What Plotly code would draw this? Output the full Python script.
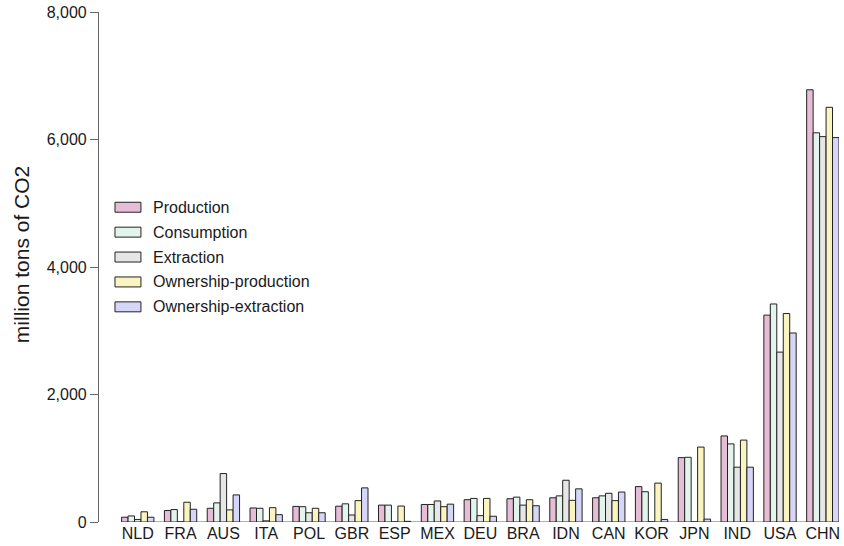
import plotly.graph_objects as go

countries = ["NLD", "FRA", "AUS", "ITA", "POL", "GBR", "ESP", "MEX", "DEU",
             "BRA", "IDN", "CAN", "KOR", "JPN", "IND", "USA", "CHN"]
production = [75, 180, 215, 220, 245, 248, 265, 275, 350, 365, 380, 380, 555, 1010, 1350, 3245, 6780]
consumption = [95, 195, 300, 215, 240, 285, 265, 275, 370, 390, 410, 410, 475, 1015, 1225, 3420, 6105]
extraction = [40, 0, 760, 18, 145, 110, 0, 330, 100, 265, 655, 450, 0, 0, 860, 2665, 6045]
ownership_production = [160, 310, 190, 225, 215, 335, 250, 240, 370, 350, 340, 335, 610, 1175, 1285, 3270, 6505]
ownership_extraction = [75, 200, 425, 115, 145, 535, 10, 280, 90, 255, 520, 470, 40, 45, 860, 2965, 6030]

series_names = ["Production", "Consumption", "Extraction", "Ownership-production", "Ownership-extraction"]
series_values = [production, consumption, extraction, ownership_production, ownership_extraction]
series_colors = ["#E7BDD5", "#E2F4EC", "#E6E6E6", "#FAF5C0", "#D6D6F8"]
y_ticks = [0, 2000, 4000, 6000, 8000]

FONT = "Liberation Sans, Arial, Helvetica, sans-serif"
W, H = 844, 546
L, R, T, B = 99, 4, 10, 24
BARGAP = 0.245
plot_w = W - L - R
plot_h = H - T - B

fig = go.Figure()
for name, vals, col in zip(series_names, series_values, series_colors):
    fig.add_trace(go.Bar(
        x=countries, y=vals, name=name,
        marker=dict(color=col, line=dict(color="#222222", width=1)),
        showlegend=False,
    ))

n = len(countries)
half = (1 - BARGAP) / 2
fig.update_layout(
    width=W, height=H,
    margin=dict(l=L, r=R, t=T, b=B),
    paper_bgcolor="white", plot_bgcolor="white",
    barmode="group", bargap=BARGAP, bargroupgap=0,
    font=dict(family=FONT, size=16, color="#1a1a1a"),
    xaxis=dict(range=[-0.905, n - 1 + half], showline=False, showgrid=False,
               zeroline=False, ticks="", tickfont=dict(size=16, color="#1a1a1a")),
    yaxis=dict(range=[0, 8000], tickvals=y_ticks, tickformat=",",
               showline=True, linecolor="#666666", linewidth=1.2,
               ticks="outside", ticklen=8, tickcolor="#666666", tickwidth=1,
               showgrid=False, zeroline=False,
               tickfont=dict(size=16, color="#1a1a1a")),
)

# baseline spanning the bar groups
fig.add_shape(type="line", xref="x", yref="y", x0=-half, x1=n - 1 + half, y0=0, y1=0,
              line=dict(color="#999999", width=1.5), layer="below")

# y-axis title
fig.add_annotation(text="million tons of CO2", xref="paper", yref="paper",
                   x=(21 - L) / plot_w, y=(H - B - 254) / plot_h,
                   textangle=-90, showarrow=False, xanchor="center", yanchor="middle",
                   font=dict(size=21, color="#1a1a1a", family=FONT))

# manual legend
def px_x(p):
    return (p - L) / plot_w

def px_y(p):
    return (H - B - p) / plot_h

for i, (name, col) in enumerate(zip(series_names, series_colors)):
    cy = 206 + 25 * i
    fig.add_shape(type="rect", xref="paper", yref="paper",
                  x0=px_x(115), x1=px_x(141), y0=px_y(cy + 5), y1=px_y(cy - 5),
                  fillcolor=col, line=dict(color="#222222", width=1))
    fig.add_annotation(text=name, xref="paper", yref="paper",
                       x=px_x(151), y=px_y(cy), xanchor="left", yanchor="middle",
                       showarrow=False, font=dict(size=16, color="#1a1a1a", family=FONT))

fig.write_html("out.html", config={"displayModeBar": False},
               post_script="document.body.style.margin='0px';")
